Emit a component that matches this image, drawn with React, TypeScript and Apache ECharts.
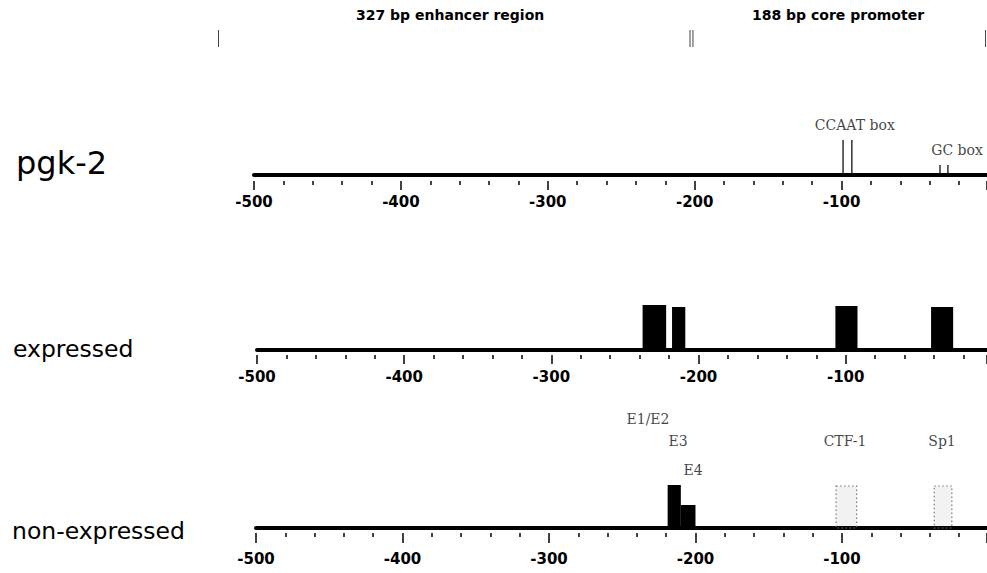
import React, { useEffect, useRef } from "react";
import * as echarts from "echarts";

// ---- data ----
const axisMin = -500;
const axisStep = 100;
const axisMaxes = [-1, -4, -1]; // visible right end of each map

// top region brackets (bp, same scale as the map)
const regionBounds = [-525, -203.5, -201.5, -2];
const regionTitles = ["327 bp enhancer region", "188 bp core promoter"];

// pgk-2 promoter elements
const ccaatLines = [-99, -93];
const ccaatHeight = 35;
const gcLines = [-33, -27.6];
const gcHeight = 10;

// expressed: footprints
const expStart = [-238, -218, -107, -42];
const expEnd = [-222, -209, -92, -27];
const expHeight = [45, 43, 44, 43];

// non-expressed: footprints
const nonStart = [-219, -210];
const nonEnd = [-210, -200];
const nonHeight = [43, 23];
// non-expressed: weak / absent sites (dotted)
const weakStart = [-104, -37];
const weakEnd = [-90, -25];
const weakHeight = [42, 42];

// annotation labels
const topNames = ["CCAAT box", "GC box"];
const topLabelX = [-91, -21.4];
const topLabelY = [50, 25];
const nonNames = ["E1/E2", "E3", "E4", "CTF-1", "Sp1"];
const nonLabelX = [-232.4, -211.9, -201.7, -97.9, -31.7];
const nonLabelY = [109, 87, 58, 87, 87];

const rowNames = ["pgk-2", "expressed", "non-expressed"];

const labelFont = "DejaVu Sans";
const annFont = "DejaVu Serif";

function rectItem(fill: string, dotted: boolean) {
  return (params: any, api: any) => {
    const s = api.coord([api.value(0), 0]);
    const e = api.coord([api.value(1), api.value(2)]);
    return {
      type: "rect",
      shape: { x: s[0], y: e[1], width: e[0] - s[0], height: s[1] - e[1] },
      style: dotted
        ? { fill: "rgba(0,0,0,0.05)", stroke: "#777", lineWidth: 1.2, lineDash: [1.5, 2.5] }
        : { fill },
    };
  };
}

function vlineItem(width: number, color: string) {
  return (params: any, api: any) => {
    const b = api.coord([api.value(0), 0]);
    const t = api.coord([api.value(0), api.value(1)]);
    return {
      type: "line",
      shape: { x1: b[0], y1: b[1], x2: t[0], y2: t[1] },
      style: { stroke: color, lineWidth: width },
    };
  };
}

function lineAxis(gridIndex: number, max: number) {
  return {
    type: "value",
    gridIndex,
    min: axisMin,
    max,
    position: "bottom",
    offset: 0,
    axisLine: { show: true, onZero: false, lineStyle: { color: "#000", width: 4 } },
    axisTick: { show: false },
    axisLabel: { show: false },
    splitLine: { show: false },
  };
}

function tickAxis(gridIndex: number, max: number, offset: number, margin: number, len: number) {
  return {
    type: "value",
    gridIndex,
    min: axisMin,
    max,
    interval: axisStep,
    position: "bottom",
    offset,
    axisLine: { show: false, onZero: false },
    axisTick: { show: true, length: len, lineStyle: { color: "#000", width: 1.5 } },
    minorTick: { show: true, splitNumber: 5, length: 4, lineStyle: { color: "#000", width: 1.5 } },
    axisLabel: {
      show: true,
      margin,
      showMaxLabel: false,
      color: "#000",
      fontFamily: labelFont,
      fontWeight: "bold",
      fontSize: 15,
    },
    splitLine: { show: false },
    minorSplitLine: { show: false },
  };
}

function labelSeries(xAxisIndex: number, yAxisIndex: number, names: string[], xs: number[], ys: number[]) {
  return {
    type: "scatter",
    xAxisIndex,
    yAxisIndex,
    symbolSize: 0,
    clip: false,
    silent: true,
    data: names.map((n, i) => ({ name: n, value: [xs[i], ys[i]] })),
    label: {
      show: true,
      position: "inside",
      formatter: "{b}",
      color: "#111",
      fontFamily: annFont,
      fontSize: 14,
    },
  };
}

export default function App() {
  const ref = useRef<HTMLDivElement>(null);

  useEffect(() => {
    if (!ref.current) return;
    const chart = echarts.init(ref.current, undefined, { renderer: "svg" });

    const option: any = {
      animation: false,
      backgroundColor: "#fff",
      grid: [
        { left: 0, right: 0, top: 30, height: 17 },
        { left: 254, right: 0, top: 125, height: 50 },
        { left: 257, right: 0, top: 300, height: 50 },
        { left: 256, right: 0, top: 478, height: 50 },
      ],
      xAxis: [
        { type: "value", gridIndex: 0, min: -674, max: -1, show: false },
        lineAxis(1, axisMaxes[0]),
        tickAxis(1, axisMaxes[0], 6, 13, 9),
        lineAxis(2, axisMaxes[1]),
        tickAxis(2, axisMaxes[1], 5, 14, 9),
        lineAxis(3, axisMaxes[2]),
        tickAxis(3, axisMaxes[2], 5, 18, 10),
      ],
      yAxis: [
        { type: "value", gridIndex: 0, min: 0, max: 1, show: false },
        { type: "value", gridIndex: 1, min: 0, max: 50, show: false },
        { type: "value", gridIndex: 2, min: 0, max: 50, show: false },
        { type: "value", gridIndex: 3, min: 0, max: 50, show: false },
      ],
      graphic: [
        {
          type: "text",
          left: 452 - 96,
          top: 8,
          style: { text: regionTitles[0], fontFamily: labelFont, fontWeight: "bold", fontSize: 14, fill: "#000" },
        },
        {
          type: "text",
          left: 838 - 86,
          top: 8,
          style: { text: regionTitles[1], fontFamily: labelFont, fontWeight: "bold", fontSize: 14, fill: "#000" },
        },
        {
          type: "text",
          left: 16,
          top: 147,
          style: { text: rowNames[0], fontFamily: labelFont, fontSize: 32, fill: "#000" },
        },
        {
          type: "text",
          left: 13,
          top: 337,
          style: { text: rowNames[1], fontFamily: labelFont, fontSize: 23.5, fill: "#000" },
        },
        {
          type: "text",
          left: 12,
          top: 519,
          style: { text: rowNames[2], fontFamily: labelFont, fontSize: 23.5, fill: "#000" },
        },
      ],
      series: [
        // top region brackets
        {
          type: "custom",
          xAxisIndex: 0,
          yAxisIndex: 0,
          silent: true,
          data: regionBounds.map((v) => [v, 1]),
          encode: { x: 0, y: 1 },
          renderItem: vlineItem(1, "#444"),
        },
        // pgk-2: CCAAT box
        {
          type: "custom",
          xAxisIndex: 2,
          yAxisIndex: 1,
          silent: true,
          data: ccaatLines.map((v) => [v, ccaatHeight]),
          encode: { x: 0, y: 1 },
          renderItem: vlineItem(1.3, "#111"),
        },
        // pgk-2: GC box
        {
          type: "custom",
          xAxisIndex: 2,
          yAxisIndex: 1,
          silent: true,
          data: gcLines.map((v) => [v, gcHeight]),
          encode: { x: 0, y: 1 },
          renderItem: vlineItem(1.3, "#111"),
        },
        labelSeries(2, 1, topNames, topLabelX, topLabelY),
        // expressed footprints
        {
          type: "custom",
          xAxisIndex: 4,
          yAxisIndex: 2,
          silent: true,
          data: expStart.map((s, i) => [s, expEnd[i], expHeight[i]]),
          encode: { x: [0, 1], y: 2 },
          renderItem: rectItem("#000", false),
        },
        // non-expressed footprints
        {
          type: "custom",
          xAxisIndex: 6,
          yAxisIndex: 3,
          silent: true,
          data: nonStart.map((s, i) => [s, nonEnd[i], nonHeight[i]]),
          encode: { x: [0, 1], y: 2 },
          renderItem: rectItem("#000", false),
        },
        {
          type: "custom",
          xAxisIndex: 6,
          yAxisIndex: 3,
          silent: true,
          data: weakStart.map((s, i) => [s, weakEnd[i], weakHeight[i]]),
          encode: { x: [0, 1], y: 2 },
          renderItem: rectItem("#000", true),
        },
        labelSeries(6, 3, nonNames, nonLabelX, nonLabelY),
      ],
    };

    chart.setOption(option);
    return () => chart.dispose();
  }, []);

  return (
    <div
      ref={ref}
      style={{ position: "fixed", left: 0, top: 0, width: 987, height: 573, background: "#fff" }}
    />
  );
}
